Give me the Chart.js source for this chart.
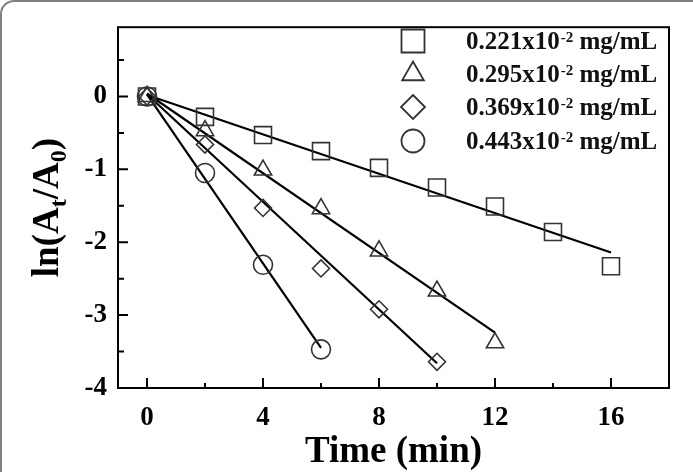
<!DOCTYPE html>
<html>
<head>
<meta charset="utf-8">
<script src="https://cdn.jsdelivr.net/npm/chart.js@4/dist/chart.umd.min.js"></script>
<style>
  html, body { margin: 0; padding: 0; background: #fff; overflow: hidden; }
  #wrap { position: relative; width: 693px; height: 472px; overflow: hidden; }
  #frame { position: absolute; left: 0; top: 0; width: 720px; height: 500px;
           border: 2px solid #808080; border-radius: 14px; box-sizing: border-box; }
  canvas { position: absolute; left: 0; top: 0; }
</style>
</head>
<body>
<div id="wrap">
  <div id="frame"></div>
  <canvas id="c" width="693" height="472"></canvas>
</div>
<script>
// ---- data ----
const seriesLabels = ['0.221x10-2 mg/mL', '0.295x10-2 mg/mL', '0.369x10-2 mg/mL', '0.443x10-2 mg/mL'];
const legendMain = ['0.221x10', '0.295x10', '0.369x10', '0.443x10'];
const legendSup = '-2';
const legendUnit = ' mg/mL';

const timeSq  = [0, 2, 4, 6, 8, 10, 12, 14, 16];
const lnSq    = [0, -0.28, -0.53, -0.75, -0.98, -1.25, -1.51, -1.86, -2.33];
const timeTri = [0, 2, 4, 6, 8, 10, 12];
const lnTri   = [0, -0.47, -1.01, -1.54, -2.12, -2.67, -3.38];
const timeDia = [0, 2, 4, 6, 8, 10];
const lnDia   = [0, -0.66, -1.53, -2.36, -2.92, -3.64];
const timeCir = [0, 2, 4, 6];
const lnCir   = [0, -1.05, -2.31, -3.47];

// fitted straight lines (end points)
const fitX0 = [0, 0, 0, 0];
const fitY0 = [0.02, 0.04, 0.03, 0.03];
const fitX1 = [16, 12, 10, 6];
const fitY1 = [-2.14, -3.24, -3.66, -3.45];

const xTickValues = [0, 4, 8, 12, 16];
const xMinorTicks = [2, 6, 10, 14];
const yTickValues = [-4, -3, -2, -1, 0];
const yMinorTicks = [0.5, -0.5, -1.5, -2.5, -3.5];

// ---- build ----
const pts = (xs, ys) => xs.map((x, i) => ({ x: x, y: ys[i] }));
const styles = ['rect', 'triangle', 'rectRot', 'circle'];
const radii = [12, 10, 8.5, 9.5];
const seriesX = [timeSq, timeTri, timeDia, timeCir];
const seriesY = [lnSq, lnTri, lnDia, lnCir];

const datasets = [];
for (let i = 0; i < 4; i++) {
  datasets.push({
    type: 'line',
    label: 'fit ' + seriesLabels[i],
    data: [{ x: fitX0[i], y: fitY0[i] }, { x: fitX1[i], y: fitY1[i] }],
    borderColor: '#000', borderWidth: 2.2, pointRadius: 0, fill: false, tension: 0,
    order: 2
  });
}
for (let i = 0; i < 4; i++) {
  datasets.push({
    type: 'scatter',
    label: seriesLabels[i],
    data: pts(seriesX[i], seriesY[i]),
    pointStyle: styles[i], pointRadius: radii[i], pointHoverRadius: radii[i],
    borderColor: '#333', borderWidth: 1.6, backgroundColor: 'rgba(0,0,0,0)',
    showLine: false, order: 1
  });
}

const FONT = "'Liberation Serif', 'Times New Roman', serif";

const decor = {
  id: 'decor',
  afterDraw(chart) {
    const ctx = chart.ctx;
    const a = chart.chartArea;
    const xs = chart.scales.x, ys = chart.scales.y;
    ctx.save();
    ctx.strokeStyle = '#000';
    // frame
    ctx.lineWidth = 2;
    ctx.strokeRect(a.left, a.top, a.right - a.left, a.bottom - a.top);
    // ticks
    ctx.lineWidth = 2;
    ctx.beginPath();
    xTickValues.forEach(v => { const p = xs.getPixelForValue(v); ctx.moveTo(p, a.bottom); ctx.lineTo(p, a.bottom - 10); });
    xMinorTicks.forEach(v => { const p = xs.getPixelForValue(v); ctx.moveTo(p, a.bottom); ctx.lineTo(p, a.bottom - 5); });
    yTickValues.forEach(v => { const p = ys.getPixelForValue(v); ctx.moveTo(a.left, p); ctx.lineTo(a.left + 10, p); });
    yMinorTicks.forEach(v => { const p = ys.getPixelForValue(v); ctx.moveTo(a.left, p); ctx.lineTo(a.left + 6, p); });
    ctx.stroke();

    // y title with subscripts
    ctx.save();
    ctx.translate(58, (a.top + a.bottom) / 2);
    ctx.rotate(-Math.PI / 2);
    ctx.fillStyle = '#000';
    ctx.textBaseline = 'alphabetic';
    ctx.textAlign = 'left';
    const big = 'bold 37px ' + FONT, small = 'bold 24px ' + FONT;
    const parts = [['ln(A', big, 0], ['t', small, 8], ['/A', big, 0], ['0', small, 8], [')', big, 0]];
    let total = 0;
    parts.forEach(p => { ctx.font = p[1]; total += ctx.measureText(p[0]).width; });
    let x = -total / 2;
    parts.forEach(p => { ctx.font = p[1]; ctx.fillText(p[0], x, p[2]); x += ctx.measureText(p[0]).width; });
    ctx.restore();

    // legend
    const rows = [41, 74, 107, 141];
    const mx = 413;
    ctx.lineWidth = 1.8;
    ctx.strokeStyle = '#333';
    rows.forEach((ry, i) => {
      ctx.beginPath();
      if (i === 0) { ctx.rect(mx - 11.5, ry - 11.5, 23, 23); }
      else if (i === 1) { const r = 12.5; ctx.moveTo(mx, ry - r); ctx.lineTo(mx + r * 0.866, ry + r / 2); ctx.lineTo(mx - r * 0.866, ry + r / 2); ctx.closePath(); }
      else if (i === 2) { const r = 12; ctx.moveTo(mx, ry - r); ctx.lineTo(mx + r, ry); ctx.lineTo(mx, ry + r); ctx.lineTo(mx - r, ry); ctx.closePath(); }
      else { ctx.arc(mx, ry, 11.5, 0, Math.PI * 2); }
      ctx.stroke();
      ctx.fillStyle = '#111';
      ctx.textAlign = 'left';
      ctx.textBaseline = 'alphabetic';
      let tx = 466;
      ctx.font = 'bold 25px ' + FONT;
      ctx.fillText(legendMain[i], tx, ry + 8);
      tx += ctx.measureText(legendMain[i]).width + 1;
      ctx.font = 'bold 15px ' + FONT;
      ctx.fillText(legendSup, tx, ry + 1);
      tx += ctx.measureText(legendSup).width;
      ctx.font = 'bold 25px ' + FONT;
      ctx.fillText(legendUnit, tx, ry + 8);
    });
    ctx.restore();
  }
};

new Chart(document.getElementById('c'), {
  type: 'scatter',
  data: { datasets: datasets },
  options: {
    responsive: false,
    animation: false,
    layout: { padding: { left: 0, right: 24, top: 20, bottom: 0 } },
    plugins: { legend: { display: false }, tooltip: { enabled: false } },
    scales: {
      x: {
        type: 'linear', min: -1, max: 18,
        afterBuildTicks: s => { s.ticks = xTickValues.map(v => ({ value: v })); },
        afterFit: s => { s.height = 84; },
        grid: { display: false, drawTicks: false },
        border: { display: false },
        ticks: { color: '#000', padding: 14, font: { family: FONT, size: 27, weight: 'bold' } },
        title: { display: true, text: 'Time (min)', color: '#000', padding: { top: 0, bottom: -3 },
                 font: { family: FONT, size: 37, weight: 'bold' } }
      },
      y: {
        type: 'linear', min: -4, max: 0.95,
        afterBuildTicks: s => { s.ticks = yTickValues.map(v => ({ value: v })); },
        afterFit: s => { s.width = 118; },
        grid: { display: false, drawTicks: false },
        border: { display: false },
        ticks: { color: '#000', padding: 11, font: { family: FONT, size: 27, weight: 'bold' } }
      }
    }
  },
  plugins: [decor]
});
</script>
</body>
</html>
